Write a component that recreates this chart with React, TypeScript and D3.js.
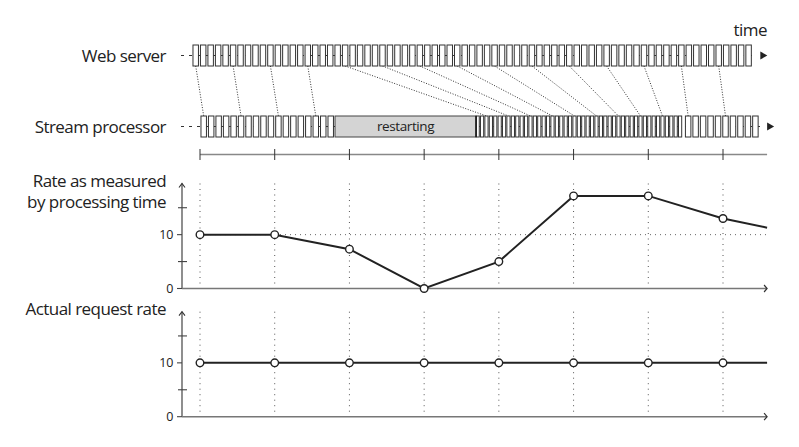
import * as d3 from 'd3'

// time is measured in intervals; the web server sends 10 requests per interval
const TIME_TICKS = [0, 1, 2, 3, 4, 5, 6, 7]
const TIME_END = 7.59
const REQUEST_GAP = 0.1

const WEB_START = -0.094
const WEB_COUNT = 75

// stream processor: runs of processed requests (start time, how many, spacing)
const PROC_RUNS = [
  { start: 0.013, count: 18, gap: 0.1 },
  { start: 3.695, count: 47, gap: 0.0589 },
  { start: 6.497, count: 10, gap: 0.1 },
]
const RESTART = [1.807, 3.695]
const LINK_EVERY = 5

const MEASURED_T = [0, 1, 2, 3, 4, 5, 6, 7, 7.59]
const MEASURED_RATE = [10, 10, 7.3, 0, 5, 17.2, 17.2, 13, 11.3]
const ACTUAL_T = [0, 1, 2, 3, 4, 5, 6, 7, 7.59]
const ACTUAL_RATE = [10, 10, 10, 10, 10, 10, 10, 10, 10]
const Y_LABELS = [0, 10]
const Y_MINOR = [5, 15]

const FONT = '"Open Sans", sans-serif'
const INK = '#222'
const LABEL_SIZE = 17
const LABEL_TRACK = -0.55

const x = d3.scaleLinear().domain([0, 7]).range([200, 723])

type Box = { t: number; w: number }

const webBoxes: Box[] = d3.range(WEB_COUNT).map((i) => ({
  t: WEB_START + i * REQUEST_GAP,
  w: x(REQUEST_GAP) - x(0) - 2,
}))

const procBoxes: Box[] = PROC_RUNS.flatMap((run) =>
  d3.range(run.count).map((i) => ({
    t: run.start + i * run.gap,
    w: x(run.gap) - x(0) - (run.gap < REQUEST_GAP ? 1.2 : 2),
  })),
)

function Row({ boxes, y0, label, dashStart }: { boxes: Box[]; y0: number; label: string; dashStart: number }) {
  const h = 21
  const mid = y0 + h / 2
  const last = boxes[boxes.length - 1]
  const end = x(last.t) + last.w
  return (
    <g>
      <text x={166} y={mid + 6} textAnchor="end" fontFamily={FONT} fontSize={LABEL_SIZE} letterSpacing={LABEL_TRACK} fill={INK}>
        {label}
      </text>
      <line x1={dashStart} x2={end + 5} y1={mid} y2={mid} stroke="#333" strokeWidth={1} strokeDasharray="3,5" />
      <path d={`M${end + 9},${mid - 4} L${end + 16},${mid} L${end + 9},${mid + 4} Z`} fill={INK} />
      {boxes.map((b, i) => (
        <rect key={i} x={x(b.t)} y={y0} width={b.w} height={h} fill="#fff" stroke="#333" strokeWidth={1} />
      ))}
    </g>
  )
}

function RateChart({ t, values, zeroY, label, refLine }: { t: number[]; values: number[]; zeroY: number; label: string[]; refLine: boolean }) {
  const y = d3.scaleLinear().domain([0, 19.5]).range([zeroY, zeroY - 105])
  const axisX = 182
  const top = y(19.5)
  const pts = t.map((d, i) => [x(d), y(values[i])] as [number, number])
  const line = d3.line()
  return (
    <g>
      {label.map((l, i) => (
        <text key={i} x={166} y={top + 3 + i * 21.5} textAnchor="end" fontFamily={FONT} fontSize={LABEL_SIZE} letterSpacing={LABEL_TRACK} fill={INK}>
          {l}
        </text>
      ))}
      {TIME_TICKS.map((d) => (
        <line key={d} x1={x(d)} x2={x(d)} y1={top} y2={zeroY - 5} stroke="#555" strokeWidth={1} strokeDasharray="1,4.5" />
      ))}
      {refLine && (
        <line x1={x(0)} x2={x(TIME_END)} y1={y(10)} y2={y(10)} stroke="#666" strokeWidth={1} strokeDasharray="1,4" />
      )}
      <line x1={axisX} x2={axisX} y1={zeroY} y2={top} stroke="#444" strokeWidth={1.2} />
      <path d={`M${axisX - 3},${top + 4} L${axisX},${top} L${axisX + 3},${top + 4}`} fill="none" stroke="#333" strokeWidth={1.1} />
      <line x1={axisX} x2={x(TIME_END)} y1={zeroY} y2={zeroY} stroke="#777" strokeWidth={1.5} />
      <path d={`M${x(TIME_END) - 3},${zeroY - 3.5} L${x(TIME_END)},${zeroY} L${x(TIME_END) - 3},${zeroY + 3.5}`} fill="none" stroke="#333" strokeWidth={1.2} />
      {Y_LABELS.map((v) => (
        <g key={v}>
          <line x1={axisX - 5} x2={axisX} y1={y(v)} y2={y(v)} stroke="#444" strokeWidth={1.1} />
          <text x={173} y={y(v) + 4.5} textAnchor="end" fontFamily={FONT} fontSize={12.5} letterSpacing={-0.3} fill={INK}>
            {v}
          </text>
        </g>
      ))}
      {Y_MINOR.map((v) => (
        <line key={v} x1={axisX - 4} x2={axisX + 5} y1={y(v)} y2={y(v)} stroke="#444" strokeWidth={1.1} />
      ))}
      <path d={line(pts) ?? ''} fill="none" stroke={INK} strokeWidth={2} />
      {pts.slice(0, TIME_TICKS.length).map((p, i) => (
        <circle key={i} cx={p[0]} cy={p[1]} r={3.8} fill="#fff" stroke={INK} strokeWidth={1.4} />
      ))}
    </g>
  )
}

export default function App() {
  const webTop = 45
  const procTop = 116
  const links = d3.range(0, WEB_COUNT, LINK_EVERY).filter((i) => i < procBoxes.length)
  return (
    <svg width={799} height={447} style={{ position: 'absolute', left: 0, top: 0, background: '#fff' }}>
      <text x={767} y={36} textAnchor="end" fontFamily={FONT} fontSize={LABEL_SIZE} letterSpacing={LABEL_TRACK} fill={INK}>
        time
      </text>

      {links.map((i) => (
        <line
          key={i}
          x1={x(webBoxes[i].t) + webBoxes[i].w / 2}
          y1={webTop + 21}
          x2={x(procBoxes[i].t) + procBoxes[i].w / 2}
          y2={procTop}
          stroke="#333"
          strokeWidth={1}
          strokeDasharray="1,1.6"
        />
      ))}

      <Row boxes={webBoxes} y0={webTop} label="Web server" dashStart={181} />
      <Row boxes={procBoxes} y0={procTop} label="Stream processor" dashStart={181} />

      <rect x={x(RESTART[0])} y={procTop} width={x(RESTART[1]) - x(RESTART[0])} height={21} fill="#d4d4d4" stroke="#444" strokeWidth={1} />
      <line x1={x(RESTART[1])} x2={x(RESTART[1])} y1={procTop} y2={procTop + 21} stroke="#222" strokeWidth={1.8} />
      <text x={(x(RESTART[0]) + x(RESTART[1])) / 2} y={procTop + 15} textAnchor="middle" fontFamily={FONT} fontSize={13.5} letterSpacing={-0.4} fill={INK}>
        restarting
      </text>

      <line x1={x(0)} x2={x(TIME_END)} y1={154.5} y2={154.5} stroke="#888" strokeWidth={1.5} />
      {TIME_TICKS.map((d) => (
        <line key={d} x1={x(d)} x2={x(d)} y1={149} y2={160} stroke="#333" strokeWidth={1} />
      ))}

      <RateChart t={MEASURED_T} values={MEASURED_RATE} zeroY={288.5} label={['Rate as measured', 'by processing time']} refLine />
      <RateChart t={ACTUAL_T} values={ACTUAL_RATE} zeroY={416.7} label={['Actual request rate']} refLine={false} />
    </svg>
  )
}
